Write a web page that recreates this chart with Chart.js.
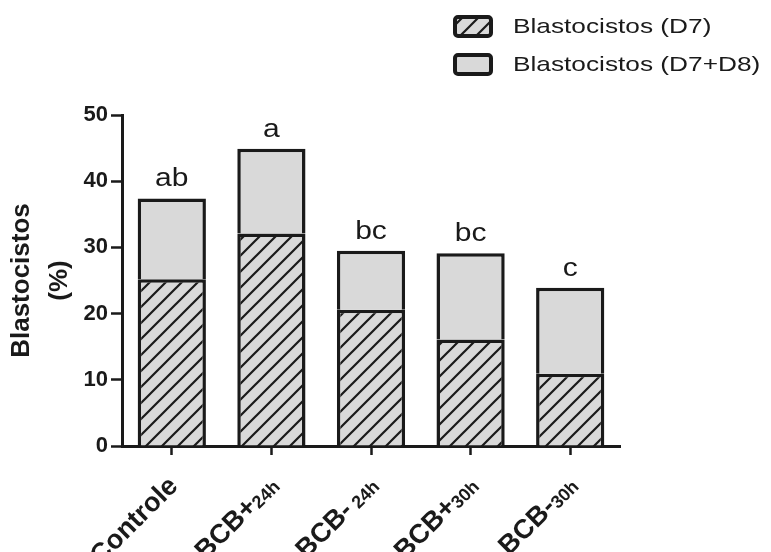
<!DOCTYPE html>
<html>
<head>
<meta charset="utf-8">
<script src="https://cdn.jsdelivr.net/npm/chart.js@4.4.1/dist/chart.umd.min.js"></script>
<style>
  body { margin: 0; background: #fff; }
  #wrap { width: 771px; height: 552px; }
</style>
</head>
<body>
<div id="wrap"><canvas id="blastoChart"></canvas></div>
<script>
// values
const categories = ['Controle', 'BCB+', 'BCB-', 'BCB+', 'BCB-'];
const categorySubs = ['', '24h', ' 24h', '30h', '30h'];
const blastoD7 = [25.2, 32.1, 20.6, 16.1, 10.9];
const blastoD7D8 = [37.4, 44.9, 29.5, 29.1, 23.9];
const letters = ['ab', 'a', 'bc', 'bc', 'c'];
const yTicks = [0, 10, 20, 30, 40, 50];
const seriesNames = ['Blastocistos (D7)', 'Blastocistos (D7+D8)'];

const INK = '#1a1a1a';
const GRAY = '#d9d9d9';
const FONT = "'Liberation Sans', Arial, sans-serif";

function makeHatch() {
    const c = document.createElement('canvas');
    c.width = 16;
    c.height = 16;
    const g = c.getContext('2d');
    g.fillStyle = GRAY;
    g.fillRect(0, 0, 16, 16);
    g.strokeStyle = INK;
    g.lineWidth = 2.2;
    g.beginPath();
    g.moveTo(-8, 8); g.lineTo(8, -8);
    g.moveTo(0, 16); g.lineTo(16, 0);
    g.moveTo(8, 24); g.lineTo(24, 8);
    g.stroke();
    return g.createPattern(c, 'repeat');
}
const hatch = makeHatch();

// stacked: top segment is the D8 increment on top of D7
const topPart = blastoD7D8.map((v, i) => +(v - blastoD7[i]).toFixed(2));

const extras = {
    id: 'extras',
    afterDraw(chart) {
        const ctx = chart.ctx;
        const xs = chart.scales.x;
        const meta = chart.getDatasetMeta(1);
        ctx.save();
        ctx.fillStyle = INK;

        // significance letters
        ctx.font = '25px ' + FONT;
        ctx.textAlign = 'center';
        ctx.textBaseline = 'alphabetic';
        meta.data.forEach((el, i) => {
            ctx.save();
            ctx.translate(el.x, el.y - 12);
            ctx.scale(1.2, 1);
            ctx.fillText(letters[i], 0, 0);
            ctx.restore();
        });

        // rotated category labels with subscripts
        categories.forEach((name, i) => {
            const x = xs.getPixelForValue(i);
            const sub = categorySubs[i];
            ctx.save();
            ctx.translate(x + (sub ? 4 : 2), 482);
            ctx.rotate(-Math.PI / 4);
            ctx.textBaseline = 'middle';
            ctx.textAlign = 'right';
            ctx.font = 'bold 18px ' + FONT;
            const subW = sub ? ctx.measureText(sub).width : 0;
            if (sub) ctx.fillText(sub, 0, 3);
            ctx.font = 'bold 27px ' + FONT;
            ctx.fillText(name, -subW, sub ? -1 : 0);
            ctx.restore();
        });

        // legend
        const rows = [{y: 15, fill: hatch}, {y: 53, fill: GRAY}];
        rows.forEach((r, i) => {
            ctx.beginPath();
            ctx.roundRect(455, r.y + 2, 36, 19, 3);
            ctx.fillStyle = r.fill;
            ctx.fill();
            ctx.lineWidth = 4;
            ctx.strokeStyle = INK;
            ctx.stroke();
            ctx.save();
            ctx.fillStyle = INK;
            ctx.font = '21px ' + FONT;
            ctx.textAlign = 'left';
            ctx.textBaseline = 'middle';
            ctx.translate(513, r.y + 12);
            ctx.scale(1.25, 1);
            ctx.fillText(seriesNames[i], 0, 0);
            ctx.restore();
        });
        ctx.restore();
    }
};

new Chart(document.getElementById('blastoChart'), {
    type: 'bar',
    data: {
        labels: categories.map((c, i) => c + categorySubs[i]),
        datasets: [
            {
                label: seriesNames[0],
                data: blastoD7,
                backgroundColor: hatch,
                borderColor: INK,
                borderWidth: 3.5
            },
            {
                label: seriesNames[1],
                data: topPart,
                backgroundColor: GRAY,
                borderColor: INK,
                borderWidth: 3.5
            }
        ]
    },
    options: {
        responsive: true,
        maintainAspectRatio: false,
        animation: false,
        datasets: {
            bar: { barPercentage: 0.685, categoryPercentage: 1 }
        },
        layout: { padding: { top: 115, right: 151, left: 0, bottom: 0 } },
        scales: {
            x: {
                stacked: true,
                z: 1,
                afterFit: s => { s.height = 106; },
                grid: {
                    display: true,
                    drawOnChartArea: false,
                    offset: false,
                    tickLength: 9,
                    tickWidth: 2.5,
                    tickColor: INK
                },
                border: { display: true, width: 3, color: INK },
                ticks: { display: false }
            },
            y: {
                stacked: true,
                min: 0,
                max: 50,
                afterFit: s => { s.width = 122; },
                afterBuildTicks: s => { s.ticks = yTicks.map(v => ({value: v})); },
                grid: {
                    display: true,
                    drawOnChartArea: false,
                    tickLength: 11,
                    tickWidth: 2.5,
                    tickColor: INK
                },
                border: { display: true, width: 3, color: INK },
                ticks: {
                    color: INK,
                    padding: 3,
                    font: { family: FONT, size: 22, weight: 'bold' }
                },
                title: {
                    display: true,
                    text: ['Blastocistos', '(%)'],
                    color: INK,
                    padding: { top: 3, bottom: 0 },
                    font: { family: FONT, size: 26, weight: 'bold', lineHeight: 1.45 }
                }
            }
        },
        plugins: {
            legend: { display: false },
            tooltip: { enabled: false }
        }
    },
    plugins: [extras]
});
</script>
</body>
</html>
